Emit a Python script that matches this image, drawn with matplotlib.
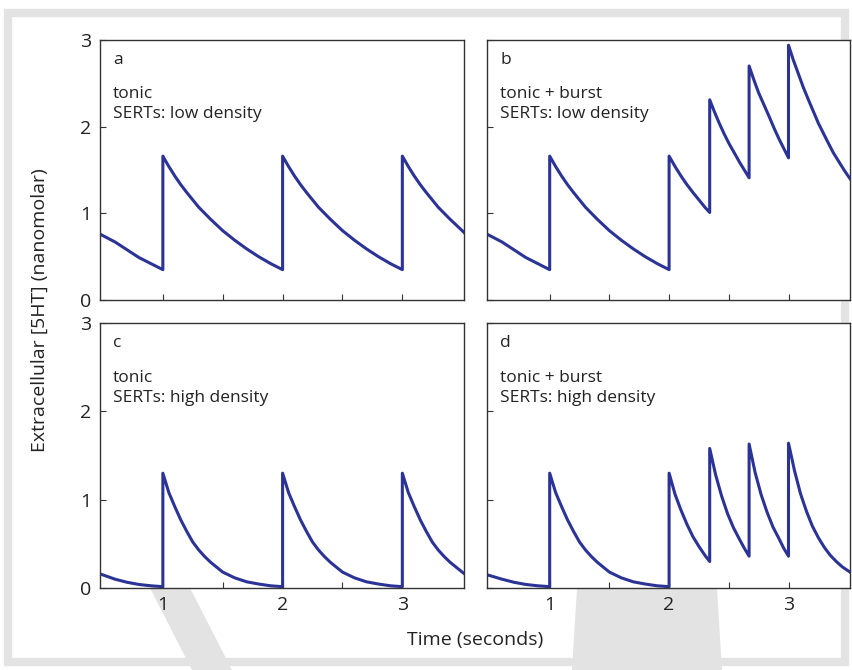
import matplotlib
matplotlib.use("Agg")
import matplotlib.pyplot as plt
from matplotlib.patches import Rectangle, Polygon

plt.rcParams['font.family'] = ['Open Sans', 'DejaVu Sans']

# --- data (time in s, [5HT] in nM) ---
t_a = [0.475, 0.6, 0.7, 0.8, 0.9, 1.0,
       1.0, 1.05, 1.1, 1.15, 1.2, 1.3, 1.4, 1.5, 1.6, 1.7, 1.8, 1.9, 2.0,
       2.0, 2.05, 2.1, 2.15, 2.2, 2.3, 2.4, 2.5, 2.6, 2.7, 2.8, 2.9, 3.0,
       3.0, 3.05, 3.1, 3.15, 3.2, 3.3, 3.4, 3.5, 3.515]
v_a = [0.76, 0.67, 0.58, 0.49, 0.42, 0.35,
       1.66, 1.54, 1.43, 1.33, 1.24, 1.07, 0.93, 0.80, 0.69, 0.59, 0.50, 0.42, 0.35,
       1.66, 1.54, 1.43, 1.33, 1.24, 1.07, 0.93, 0.80, 0.69, 0.59, 0.50, 0.42, 0.35,
       1.66, 1.54, 1.43, 1.33, 1.24, 1.07, 0.93, 0.80, 0.78]

t_b = [0.475, 0.6, 0.7, 0.8, 0.9, 1.0,
       1.0, 1.05, 1.1, 1.15, 1.2, 1.3, 1.4, 1.5, 1.6, 1.7, 1.8, 1.9, 2.0,
       2.0, 2.05, 2.1, 2.15, 2.2, 2.3, 2.34,
       2.34, 2.38, 2.42, 2.46, 2.50, 2.545, 2.59, 2.63, 2.67,
       2.67, 2.71, 2.75, 2.795, 2.84, 2.88, 2.92, 2.96, 3.0,
       3.0, 3.04, 3.08, 3.125, 3.17, 3.21, 3.25, 3.29, 3.33, 3.375, 3.42, 3.47, 3.515]
v_b = [0.76, 0.67, 0.58, 0.49, 0.42, 0.35,
       1.66, 1.54, 1.43, 1.33, 1.24, 1.07, 0.93, 0.80, 0.69, 0.59, 0.50, 0.42, 0.35,
       1.66, 1.54, 1.43, 1.33, 1.24, 1.07, 1.01,
       2.31, 2.17, 2.04, 1.92, 1.81, 1.70, 1.59, 1.50, 1.41,
       2.70, 2.54, 2.39, 2.25, 2.11, 1.98, 1.86, 1.75, 1.64,
       2.94, 2.77, 2.62, 2.45, 2.30, 2.17, 2.04, 1.93, 1.82, 1.70, 1.60, 1.49, 1.40]

t_c = [0.475, 0.6, 0.7, 0.8, 0.9, 1.0,
       1.0, 1.05, 1.1, 1.15, 1.2, 1.25, 1.3, 1.35, 1.4, 1.5, 1.6, 1.7, 1.8, 1.9, 2.0,
       2.0, 2.05, 2.1, 2.15, 2.2, 2.25, 2.3, 2.35, 2.4, 2.5, 2.6, 2.7, 2.8, 2.9, 3.0,
       3.0, 3.05, 3.1, 3.15, 3.2, 3.25, 3.3, 3.35, 3.4, 3.5, 3.515]
v_c = [0.16, 0.10, 0.065, 0.04, 0.025, 0.015,
       1.30, 1.08, 0.92, 0.77, 0.64, 0.52, 0.43, 0.355, 0.29, 0.18, 0.115, 0.07, 0.045, 0.025, 0.015,
       1.30, 1.08, 0.92, 0.77, 0.64, 0.52, 0.43, 0.355, 0.29, 0.18, 0.115, 0.07, 0.045, 0.025, 0.015,
       1.30, 1.08, 0.92, 0.77, 0.64, 0.52, 0.43, 0.355, 0.29, 0.18, 0.165]

t_d = [0.475, 0.6, 0.7, 0.8, 0.9, 1.0,
       1.0, 1.05, 1.1, 1.15, 1.2, 1.25, 1.3, 1.35, 1.4, 1.5, 1.6, 1.7, 1.8, 1.9, 2.0,
       2.0, 2.05, 2.1, 2.15, 2.2, 2.25, 2.3, 2.34,
       2.34, 2.39, 2.44, 2.49, 2.54, 2.59, 2.63, 2.67,
       2.67, 2.72, 2.77, 2.82, 2.87, 2.92, 2.96, 3.0,
       3.0, 3.05, 3.1, 3.15, 3.2, 3.25, 3.3, 3.35, 3.4, 3.45, 3.515]
v_d = [0.15, 0.10, 0.065, 0.04, 0.025, 0.015,
       1.30, 1.08, 0.92, 0.77, 0.64, 0.52, 0.43, 0.355, 0.29, 0.18, 0.115, 0.07, 0.045, 0.025, 0.015,
       1.30, 1.06, 0.88, 0.72, 0.58, 0.47, 0.37, 0.30,
       1.58, 1.28, 1.04, 0.84, 0.68, 0.55, 0.45, 0.36,
       1.63, 1.31, 1.06, 0.86, 0.69, 0.56, 0.45, 0.36,
       1.64, 1.33, 1.07, 0.87, 0.70, 0.57, 0.46, 0.37, 0.30, 0.24, 0.18]

panel_letters = ['a', 'b', 'c', 'd']
panel_texts = ['tonic\nSERTs: low density', 'tonic + burst\nSERTs: low density',
               'tonic\nSERTs: high density', 'tonic + burst\nSERTs: high density']
x_ticks = [1, 1.5, 2, 2.5, 3]
x_ticklabels = ['1', '', '2', '', '3']
y_ticks = [0, 1, 2, 3]

LINE_COLOR = '#2b3396'
TEXT_COLOR = '#222222'
W, H = 853, 670

fig = plt.figure(figsize=(W / 100, H / 100), dpi=100)

# faint watermark / frame from the source page, kept behind the axes
def px_poly(pts):
    return Polygon([(x / W, 1 - y / H) for x, y in pts], closed=True,
                   transform=fig.transFigure, facecolor='#e3e3e3', edgecolor='none', zorder=-5)

fig.patches.append(Rectangle((8 / W, 1 - 662 / H), 837 / W, 649 / H, transform=fig.transFigure,
                             fill=False, edgecolor='#e3e3e3', linewidth=6, zorder=-5))
fig.patches.append(px_poly([(150, 588), (190, 588), (232, 670), (192, 670)]))
fig.patches.append(px_poly([(577, 588), (717, 588), (722, 670), (572, 670)]))

# axes positions (pixels: left, top, right, bottom)
boxes = [(100, 40, 464, 300), (487, 40, 850, 300),
         (100, 323, 464, 588), (487, 323, 850, 588)]
series = [(t_a, v_a), (t_b, v_b), (t_c, v_c), (t_d, v_d)]

for i, ((l, t, r, b), (tt, vv)) in enumerate(zip(boxes, series)):
    ax = fig.add_axes([l / W, 1 - b / H, (r - l) / W, (b - t) / H])
    ax.plot(tt, vv, color=LINE_COLOR, linewidth=2.2, solid_joinstyle='round')
    ax.set_xlim(0.475, 3.515)
    ax.set_ylim(0, 3)
    ax.set_xticks(x_ticks)
    ax.set_yticks(y_ticks)
    ax.tick_params(direction='in', length=4, width=0.8, colors='#333333',
                   labelcolor=TEXT_COLOR, labelsize=14, pad=6)
    if i >= 2:
        ax.set_xticklabels(x_ticklabels)
    else:
        ax.set_xticklabels([])
    if i % 2 != 0:
        ax.set_yticklabels([])
    for s in ax.spines.values():
        s.set_color('#333333')
        s.set_linewidth(1.0)
    ax.text(0.036, 0.925, panel_letters[i], transform=ax.transAxes, fontsize=12.5,
            color=TEXT_COLOR, va='center', ha='left')
    ax.text(0.036, 0.755, panel_texts[i], transform=ax.transAxes, fontsize=12.5,
            color=TEXT_COLOR, va='center', ha='left', linespacing=1.35)

fig.text(475 / W, 1 - 640 / H, 'Time (seconds)', ha='center', va='center',
         fontsize=14, color=TEXT_COLOR)
fig.text(40 / W, 1 - 310 / H, 'Extracellular [5HT] (nanomolar)', ha='center', va='center',
         rotation=90, fontsize=14, color=TEXT_COLOR)

fig.savefig('out.png', dpi=100)
